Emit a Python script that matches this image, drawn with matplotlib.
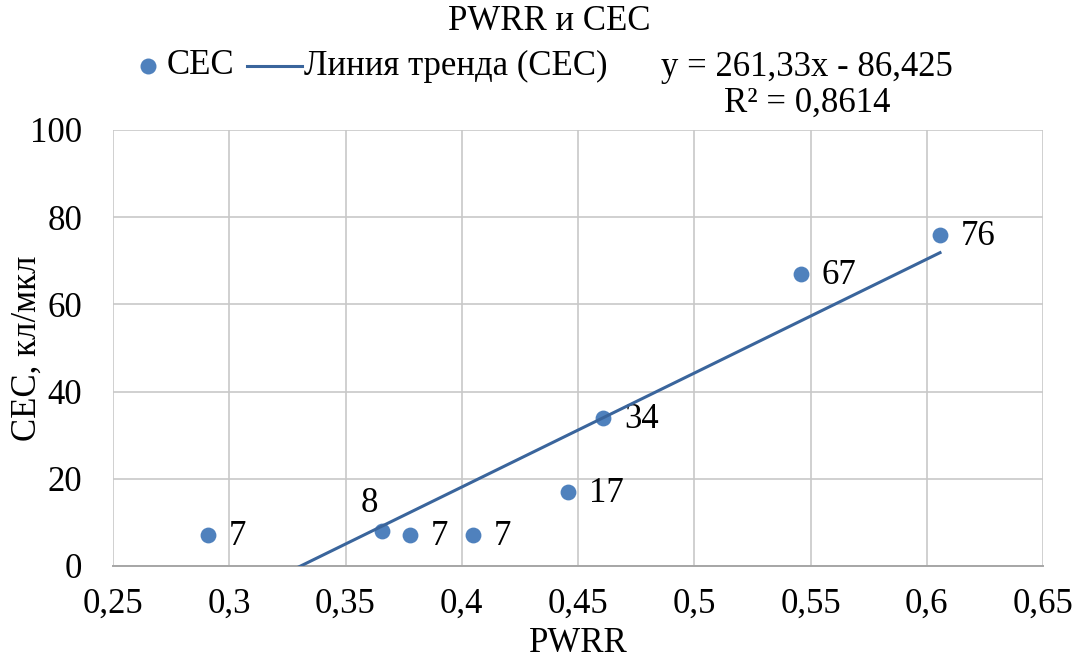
import matplotlib.pyplot as plt
from matplotlib.lines import Line2D
import numpy as np

plt.rcParams['font.family'] = ['Liberation Serif', 'DejaVu Serif']

# data
pwrr = np.array([0.291, 0.3658, 0.3777, 0.405, 0.4457, 0.4608, 0.5457, 0.6057])
cec = np.array([7, 8, 7, 7, 17, 34, 67, 76])
point_labels = ['7', '8', '7', '7', '17', '34', '67', '76']

# trend line from the chart's equation
slope = 261.33
intercept = -86.425

xticks = [0.25, 0.3, 0.35, 0.4, 0.45, 0.5, 0.55, 0.6, 0.65]
xtick_labels = ['0,25', '0,3', '0,35', '0,4', '0,45', '0,5', '0,55', '0,6', '0,65']
yticks = [0, 20, 40, 60, 80, 100]

dot_color = '#4f81bd'
line_color = '#3a659c'
fs = 25
W, H = 1082, 662

fig = plt.figure(figsize=(10.82, 6.62), dpi=100)
ax = fig.add_axes([113/W, 1 - 566/H, 930/W, 436/H])

ax.scatter(pwrr, cec, s=130, color=dot_color, zorder=3, linewidths=0)
xs = np.array([pwrr.min(), pwrr.max()])
ax.plot(xs, slope*xs + intercept, color=line_color, lw=2.2, zorder=4)

for x, y, t in zip(pwrr, cec, point_labels):
    if t == '8' and y == 8:
        ax.annotate(t, (x, y), xytext=(-9, 8), textcoords='offset points',
                    ha='center', va='bottom', fontsize=fs)
    else:
        ax.annotate(t, (x, y), xytext=(15, -1), textcoords='offset points',
                    ha='left', va='center', fontsize=fs)

ax.set_xlim(0.25, 0.65)
ax.set_ylim(0, 100)
ax.set_xticks(xticks)
ax.set_xticklabels(xtick_labels)
ax.set_yticks(yticks)
ax.tick_params(length=0, labelsize=fs)
ax.tick_params(axis='y', pad=22)
ax.tick_params(axis='x', pad=16)
ax.grid(True, color='#c8c8c8', lw=1.2)
ax.set_axisbelow(True)
for s in ['top', 'right', 'left']:
    ax.spines[s].set_visible(False)
ax.spines['bottom'].set_color('#a6a6a6')
ax.spines['bottom'].set_linewidth(1.4)

fig.text(549/W, 1 - 22/H, 'PWRR и CEC', ha='center', va='center', fontsize=fs)
fig.text(578/W, 1 - 643/H, 'PWRR', ha='center', va='center', fontsize=fs)
fig.text(27/W, 1 - 348/H, 'CEC, кл/мкл', ha='center', va='center',
         rotation=90, fontsize=fs)

# legend drawn by hand to match the spacing
ly = 1 - 66/H
fig.add_artist(Line2D([148/W], [ly], ls='none', marker='o', ms=11.5,
                      color=dot_color, mew=0))
fig.text(167/W, ly, 'CEC', ha='left', va='center', fontsize=fs)
fig.add_artist(Line2D([247/W, 302/W], [ly, ly], color=line_color, lw=2.2))
fig.text(304/W, ly, 'Линия тренда (CEC)', ha='left', va='center', fontsize=fs)

fig.text(807/W, 1 - 67/H, 'y = 261,33x - 86,425', ha='center', va='center', fontsize=fs)
fig.text(807/W, 1 - 103/H, 'R² = 0,8614', ha='center', va='center', fontsize=fs)

fig.savefig('out.png', dpi=100)
